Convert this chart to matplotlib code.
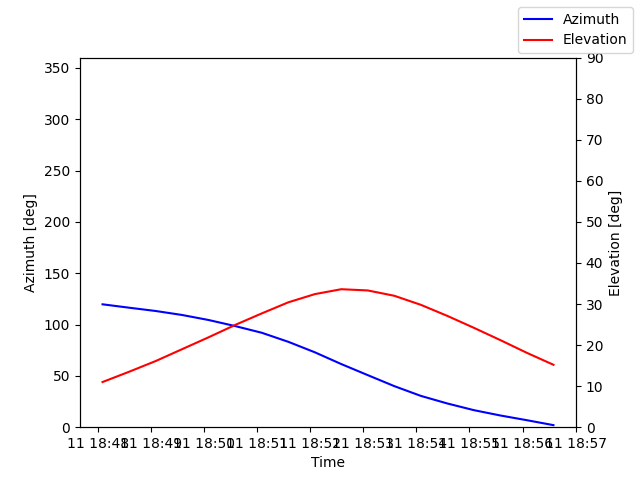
import numpy as np
import pandas as pd
import matplotlib
matplotlib.use('Agg')
import matplotlib.pyplot as plt

# Datos (cada 30 s)
times = pd.date_range('2024-01-11 18:48:05', periods=18, freq='30s')
azimuth = [119.7, 116.4, 113.2, 109.3, 104.4, 98.5, 92.0, 83.2, 73.0,
           61.5, 50.7, 40.0, 30.5, 23.1, 16.6, 11.4, 6.8, 2.0]
elevation = [11.0, 13.5, 16.1, 19.0, 21.9, 24.9, 27.7, 30.4, 32.4,
             33.6, 33.3, 32.0, 29.8, 27.1, 24.2, 21.2, 18.1, 15.2]

fig, ax = plt.subplots(figsize=(6.4, 4.8), dpi=100)
ax.plot(times, azimuth, color='blue', label='Azimuth')
ax.set_ylim(0, 360)
ax.set_xlabel('Time')
ax.set_ylabel('Azimuth [deg]')

ax2 = ax.twinx()
ax2.plot(times, elevation, color='red', label='Elevation')
ax2.set_ylim(0, 90)
ax2.set_ylabel('Elevation [deg]')

fig.legend()
fig.savefig('out.png')
